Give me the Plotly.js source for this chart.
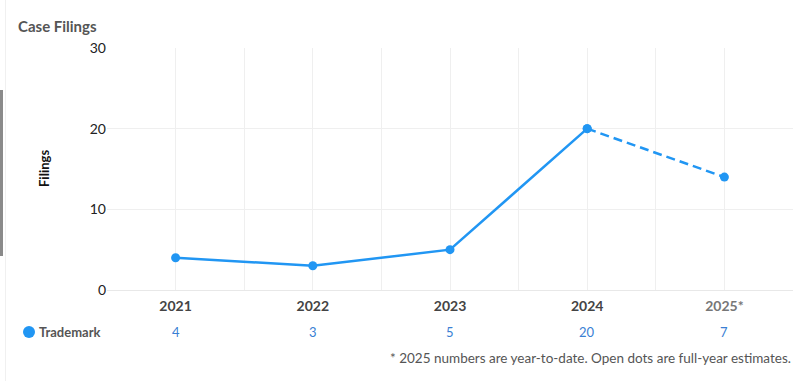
<!DOCTYPE html>
<html>
<head>
<meta charset="utf-8">
<script src="https://cdn.plot.ly/plotly-3.0.1.min.js"></script>
<style>
html,body{margin:0;padding:0;background:#fff;}
#chart{width:800px;height:381px;}
</style>
</head>
<body>
<div id="chart"></div>
<script>
const years = ['2021', '2022', '2023', '2024', '2025*'];
const filings = [4, 3, 5, 20, 14];
const tableValues = [4, 3, 5, 20, 7];
const seriesName = 'Trademark';
const chartTitle = 'Case Filings';
const yTitle = 'Filings';
const footNote = '* 2025 numbers are year-to-date. Open dots are full-year estimates.';
const yTicks = [0, 10, 20, 30];

const blue = '#2196F3';
const W = 800, H = 381;
const mL = 107, mR = 7, mT = 48, mB = 91;
const pw = W - mL - mR, ph = H - mT - mB;
const px = v => (v - mL) / pw;
const py = v => (H - mB - v) / ph;

const idx = years.map((_, i) => i);
const lastActual = years.length - 2;

const traces = [
  {
    x: idx.slice(0, lastActual + 1),
    y: filings.slice(0, lastActual + 1),
    type: 'scatter', mode: 'lines+markers',
    line: {color: blue, width: 2.5},
    marker: {color: blue, size: 9},
    hoverinfo: 'skip', showlegend: false
  },
  {
    x: idx.slice(lastActual),
    y: filings.slice(lastActual),
    type: 'scatter', mode: 'lines+markers',
    line: {color: blue, width: 2.5, dash: '9px,5px'},
    marker: {color: blue, size: 9},
    hoverinfo: 'skip', showlegend: false
  }
];

const tickvals = [], ticktext = [];
for (let i = -0.5; i <= years.length - 0.5 + 1e-9; i += 0.5) {
  tickvals.push(i);
  if (Number.isInteger(i)) {
    const t = years[i];
    ticktext.push(t.endsWith('*') ? '<span style="color:#777">' + t + '</span>' : t);
  } else ticktext.push('');
}

const annotations = [];
annotations.push({
  text: '<b>' + yTitle + '</b>', xref: 'paper', yref: 'paper',
  x: px(44), y: 0.5, xanchor: 'center', yanchor: 'middle', textangle: -90,
  showarrow: false, font: {family: 'Lato', size: 13, color: '#111'}
});
annotations.push({
  text: '<b>' + seriesName + '</b>', xref: 'paper', yref: 'paper',
  x: px(37), y: py(332), xanchor: 'left', yanchor: 'middle',
  showarrow: false, font: {family: 'Lato', size: 13, color: '#555'}
});
tableValues.forEach((v, i) => {
  annotations.push({
    text: String(v), xref: 'x', yref: 'paper', x: i, y: py(332),
    xanchor: 'center', yanchor: 'middle', showarrow: false,
    font: {family: 'Lato', size: 13, color: '#3a7fd4'}
  });
});
annotations.push({
  text: footNote, xref: 'paper', yref: 'paper', x: 1, y: py(358),
  xanchor: 'right', yanchor: 'middle', showarrow: false,
  font: {family: 'Lato', size: 13.5, color: '#555'}
});

const layout = {
  width: W, height: H,
  margin: {l: mL, r: mR, t: mT, b: mB, pad: 0},
  paper_bgcolor: '#fff', plot_bgcolor: '#fff',
  font: {family: 'Lato', size: 14, color: '#333'},
  title: {
    text: '<b>' + chartTitle + '</b>', xref: 'container', yref: 'container',
    x: 18 / W, xanchor: 'left', y: 1 - 27 / H, yanchor: 'middle',
    font: {family: 'Lato', size: 15, color: '#555'}
  },
  xaxis: {
    range: [-0.5, years.length - 0.5],
    tickmode: 'array', tickvals: tickvals, ticktext: ticktext,
    showgrid: true, gridcolor: '#efefef', gridwidth: 1,
    zeroline: false, showline: false, ticks: '',
    ticklabelstandoff: 6,
    tickfont: {family: 'Lato', size: 14, color: '#444', weight: 'bold'},
    fixedrange: true
  },
  yaxis: {
    range: [0, 30], tickmode: 'array', tickvals: yTicks,
    showgrid: true, gridcolor: '#efefef', gridwidth: 1,
    zeroline: true, zerolinecolor: '#e8e8e8', zerolinewidth: 1,
    showline: false, ticks: '',
    tickfont: {family: 'Lato', size: 14, color: '#222'},
    fixedrange: true
  },
  shapes: [
    {type: 'circle', xref: 'paper', yref: 'paper',
     x0: px(23), x1: px(35), y0: py(338), y1: py(326),
     fillcolor: blue, line: {width: 0}},
    {type: 'rect', xref: 'paper', yref: 'paper',
     x0: px(0), x1: px(3), y0: py(256), y1: py(90),
     fillcolor: '#8a8a8a', line: {width: 0}, layer: 'above'},
    {type: 'line', xref: 'paper', yref: 'paper',
     x0: px(5.5), x1: px(5.5), y0: py(H), y1: py(0),
     line: {color: '#f0f0f0', width: 1}}
  ],
  annotations: annotations,
  showlegend: false
};

Plotly.newPlot('chart', traces, layout, {displayModeBar: false, staticPlot: true});
</script>
</body>
</html>
